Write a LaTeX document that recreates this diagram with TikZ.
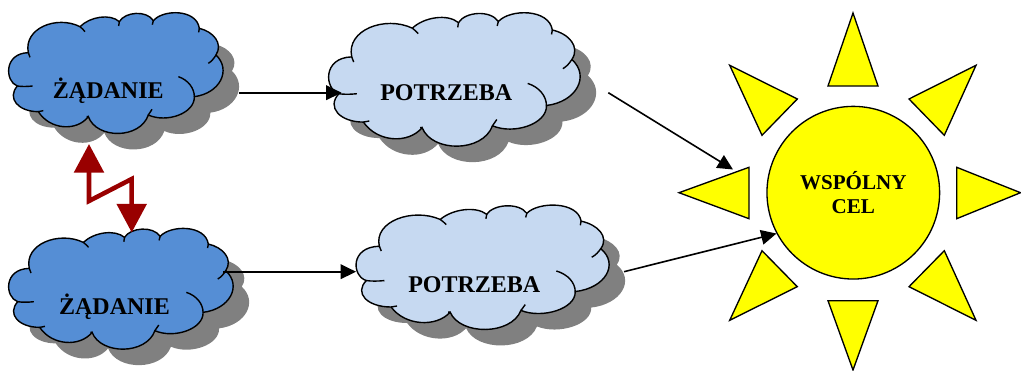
\documentclass[tikz,border=0pt]{standalone}
\usepackage{fontspec}
\setmainfont{Liberation Serif}
\usetikzlibrary{arrows.meta}
\definecolor{darkblue}{HTML}{558ED5}
\definecolor{paleblue}{HTML}{C6D9F1}
\definecolor{shadowgray}{HTML}{808080}
\definecolor{boltred}{HTML}{990000}
\definecolor{sunyellow}{HTML}{FFFF00}
\tikzset{
  cloudline/.style={black, line width=1.05pt},
  ray/.style={draw=black, fill=sunyellow, line width=1pt, line join=miter},
  label/.style={font=\fontsize{18}{20}\selectfont\bfseries, anchor=base, inner sep=0pt},
  link/.style={black, line width=1.2pt, -{Triangle[length=11.5pt, width=11pt]}},
  bolt/.style={boltred, line width=3.4pt, line join=miter, {Triangle[length=21.5pt, width=22pt]}-{Triangle[length=21.5pt, width=22pt]}}
}
\newcommand{\cloudpath}{(85,158) .. controls (70,85) and (170,45) .. (240,80) .. controls (270,50) and (330,40) .. (358,65) .. controls (375,35) and (440,30) .. (460,62) .. controls (490,27) and (590,27) .. (598,85) .. controls (640,95) and (670,130) .. (648,165) .. controls (695,210) and (660,280) .. (583,290) .. controls (585,340) and (500,370) .. (445,345) .. controls (420,418) and (290,418) .. (265,350) .. controls (230,395) and (150,390) .. (115,335) .. controls (55,335) and (20,295) .. (52,258) .. controls (15,245) and (10,160) .. (85,158) -- cycle}
\newcommand{\cloudstubs}{(85,158) -- (90,172) (240,80) .. controls (246,84) and (250,90) .. (255,95) (358,65) -- (356,78) (460,62) -- (457,74) (598,85) -- (596,97) (648,165) .. controls (642,175) and (635,184) .. (625,190) (535,230) .. controls (565,240) and (583,265) .. (583,290) (445,345) -- (456,328) (265,350) -- (260,350) (115,335) -- (130,332) (52,258) .. controls (65,260) and (80,260) .. (98,258)}
\newcommand{\cloud}[5]{
\begin{scope}[shift={(#1+16,#2+16)}, xscale=#3/3, yscale=#4/3]
\fill[shadowgray] \cloudpath;
\end{scope}
\begin{scope}[shift={(#1,#2)}, xscale=#3/3, yscale=#4/3]
\draw[cloudline, fill=#5] \cloudpath;
\draw[cloudline] \cloudstubs;
\end{scope}
}
\begin{document}
\begin{tikzpicture}[x=0.75pt, y=-0.75pt]
\useasboundingbox (0,0) rectangle (1021,371);
\cloud{0}{0}{1}{1}{darkblue}
\cloud{-0.4}{215.7}{1.047}{1}{darkblue}
\cloud{318.5}{-1.3}{1.173}{1.105}{paleblue}
\cloud{345.9}{192}{1.18}{1.03}{paleblue}
\node[label] (zadanieA) at (108.3,98.3) {ŻĄDANIE};
\node[label] (zadanieB) at (114.5,314) {ŻĄDANIE};
\node[label] (potrzebaA) at (446.3,100.7) {POTRZEBA};
\node[label] (potrzebaB) at (474.3,292.3) {POTRZEBA};
\draw[ray] (853,13) -- (828,86) -- (878,86) -- cycle;
\draw[ray] (853,370) -- (828,300.7) -- (878,300.7) -- cycle;
\draw[ray] (679,192.7) -- (749,167.3) -- (749,218.7) -- cycle;
\draw[ray] (1020.5,192.7) -- (956.7,167.3) -- (956.7,218.7) -- cycle;
\draw[ray] (729.7,65.3) -- (797.3,99) -- (762,135.3) -- cycle;
\draw[ray] (976,65.3) -- (909,99) -- (944.3,135.3) -- cycle;
\draw[ray] (729.7,320.3) -- (797.3,286.7) -- (762,250.7) -- cycle;
\draw[ray] (976,320.3) -- (909,286.7) -- (944.3,250.7) -- cycle;
\node[circle, draw=black, fill=sunyellow, line width=1pt, minimum size=129.5pt, inner sep=0pt, align=center, font=\fontsize{15.8}{18.2}\selectfont\bfseries] (cel) at (853.3,192.7) {WSPÓLNY\\CEL};
\coordinate (zadanieAout) at (239,92.7);
\coordinate (potrzebaAin) at (341.5,92.7);
\coordinate (zadanieBout) at (223,271.7);
\coordinate (potrzebaBin) at (356,271.7);
\coordinate (potrzebaAout) at (608.3,92.7);
\coordinate (celin) at (733,169.5);
\coordinate (potrzebaBout) at (624,271.7);
\coordinate (boltA) at (89,144);
\coordinate (boltB) at (131.7,232.5);
\draw[link] (zadanieAout) -- (potrzebaAin);
\draw[link] (zadanieBout) -- (potrzebaBin);
\draw[link] (potrzebaAout) -- (celin);
\draw[link] (potrzebaBout) -- (cel.208);
\draw[bolt] (boltA) -- (89,201) -- (131.7,179) -- (boltB);
\end{tikzpicture}
\end{document}
